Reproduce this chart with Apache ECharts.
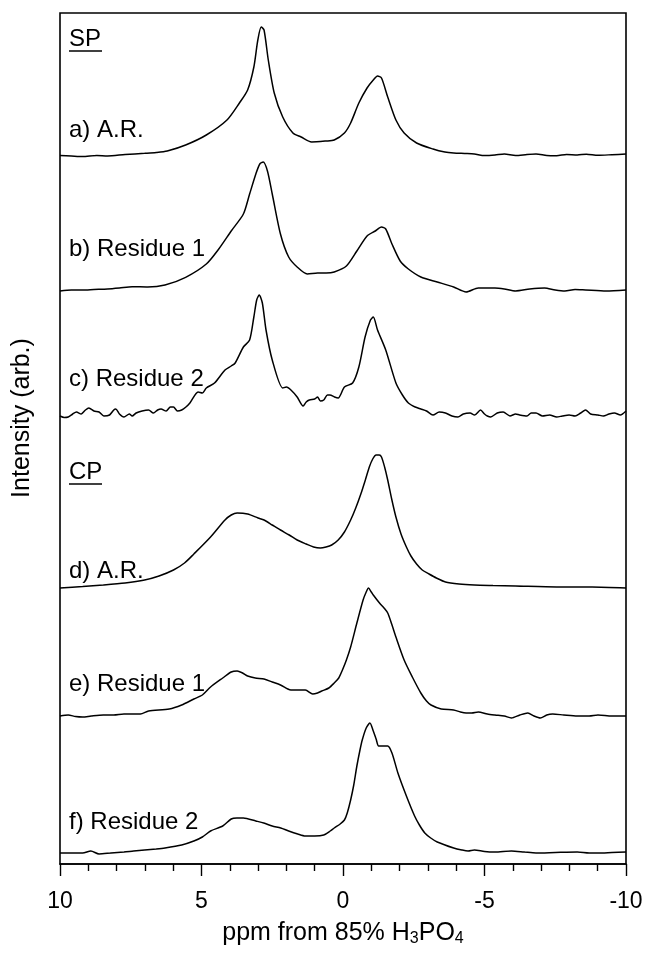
<!DOCTYPE html>
<html>
<head>
<meta charset="utf-8">
<script src="https://cdn.jsdelivr.net/npm/echarts@6/dist/echarts.min.js"></script>
<style>
html,body{margin:0;padding:0;background:#fff;}
#chart{width:647px;height:959px;}
</style>
</head>
<body>
<div id="chart"></div>
<script>
// x ticks (ppm, axis reversed)
const xTicks = [10, 5, 0, -5, -10];
// spectrum labels
const labels = ['a) A.R.', 'b) Residue 1', 'c) Residue 2', 'd) A.R.', 'e) Residue 1', 'f) Residue 2'];
const groupLabels = ['SP', 'CP'];
// vertical offsets of each trace (arbitrary intensity units)
const offsets = [709, 574, 449, 277, 148, 11];

// traces: [ppm, intensity above own baseline]
const spA = [[10.00,-0.5],[9.60,-1],[9.20,-1.5],[8.70,-0.5],[8.32,-1],[7.70,0.5],[7.01,1.7],[6.60,2.5],[6.21,4],[5.56,10],[4.83,20],[4.10,35],[3.66,52],[3.37,65],[3.15,88],[3.01,115],[2.89,128],[2.79,125],[2.64,95],[2.43,62],[2.13,38],[1.77,22],[1.48,18],[1.11,13],[0.60,14],[0.31,15],[-0.05,22],[-0.27,32],[-0.56,52],[-0.85,67],[-1.07,75],[-1.22,79],[-1.36,77],[-1.58,58],[-1.87,35],[-2.16,22],[-2.60,12],[-3.18,6],[-3.60,3],[-3.91,2],[-4.30,1.5],[-4.64,1],[-5.00,-0.5],[-5.37,0],[-5.70,1],[-6.10,-0.5],[-6.50,0.5],[-6.82,1],[-7.20,-0.5],[-7.55,-0.7],[-7.90,0.5],[-8.28,0],[-8.60,0.8],[-9.01,-0.3],[-9.50,0.3],[-10,1]];
const spB = [[10.00,-1],[9.60,0],[9.20,0],[8.80,0.5],[8.32,1],[7.90,2],[7.45,3.3],[6.90,3],[6.29,5],[5.56,12.7],[4.83,26],[4.39,41],[3.95,59],[3.52,76],[3.30,96],[3.08,116],[2.94,126],[2.82,128],[2.67,119],[2.50,96],[2.21,56],[1.92,33],[1.62,23],[1.26,16],[0.90,17],[0.60,17],[0.31,18],[-0.12,24],[-0.49,39],[-0.85,54],[-1.14,59],[-1.36,63],[-1.51,61],[-1.73,46],[-2.02,29],[-2.31,21],[-2.75,13],[-3.33,8],[-3.91,3],[-4.35,-2],[-4.78,2],[-5.37,2],[-5.70,1],[-6.10,-1],[-6.60,1],[-7.12,2],[-7.50,0],[-7.84,-1],[-8.20,0.5],[-8.57,0],[-9.30,-1],[-10,0]];
const spC = [[10.00,-1],[9.85,-2.5],[9.71,-2],[9.55,1],[9.42,3],[9.25,1],[9.10,5],[8.98,7],[8.80,4],[8.62,3],[8.45,-1],[8.25,0],[8.10,5],[8.03,6],[7.90,1],[7.74,-2],[7.55,1],[7.45,-1],[7.31,2],[7.10,4],[6.87,5],[6.70,2],[6.55,5],[6.43,6],[6.25,4],[6.10,8],[5.99,8],[5.85,4],[5.70,5],[5.55,8],[5.41,12],[5.12,23],[4.97,22],[4.83,27],[4.54,32],[4.17,45],[3.95,49],[3.81,52],[3.52,68],[3.30,75],[3.15,98],[3.05,115],[2.96,120],[2.85,112],[2.72,85],[2.50,55],[2.13,27],[2.00,28],[1.84,25],[1.62,18],[1.41,9],[1.30,13],[1.19,15],[1.00,16],[0.90,18],[0.80,14],[0.68,15],[0.55,20],[0.46,20],[0.30,18],[0.17,17],[-0.05,28],[-0.34,32],[-0.56,48],[-0.78,78],[-0.97,95],[-1.07,98],[-1.22,85],[-1.51,65],[-1.87,32],[-2.10,20],[-2.31,12],[-2.55,8],[-2.75,6],[-2.95,4],[-3.18,0],[-3.40,3],[-3.62,2],[-3.85,-1],[-4.06,-2],[-4.25,1],[-4.49,2],[-4.65,0],[-4.86,5],[-5.00,1],[-5.10,-1],[-5.22,-2],[-5.45,2],[-5.66,3],[-5.90,-1],[-6.10,1],[-6.24,0],[-6.50,-1],[-6.65,2],[-6.82,2],[-7.05,-1],[-7.30,0],[-7.55,-2],[-7.75,-1],[-7.99,0],[-8.20,-1],[-8.40,2],[-8.57,5],[-8.75,1],[-9.01,0],[-9.20,-1],[-9.40,1],[-9.59,2],[-9.80,0],[-10,4]];
const spD = [[10.00,-1],[9.20,0.5],[8.47,2],[7.70,4],[7.01,7],[6.50,11],[5.99,17],[5.60,24],[5.27,33],[4.68,50],[4.17,67],[3.95,72],[3.74,74],[3.37,73],[3.00,69],[2.79,67],[2.50,62],[2.21,57],[1.90,52],[1.62,47],[1.30,43],[1.04,40],[0.80,39],[0.60,40],[0.40,42],[0.17,47],[-0.05,55],[-0.27,67],[-0.45,79],[-0.63,93],[-0.80,108],[-0.93,120],[-1.05,128],[-1.17,132],[-1.28,132],[-1.36,130],[-1.47,120],[-1.58,107],[-1.72,88],[-1.87,70],[-2.05,53],[-2.24,40],[-2.40,31],[-2.60,23],[-2.80,17],[-3.04,13],[-3.30,9],[-3.62,5],[-4.10,3],[-4.64,2],[-5.30,1.5],[-6.10,1],[-7.55,0],[-8.80,0],[-10,-1]];
const spE = [[10.00,0],[9.71,1],[9.45,-0.5],[9.20,-1],[8.90,0],[8.47,1],[8.10,1],[7.74,2],[7.16,2],[6.87,5],[6.14,7],[5.70,11],[5.27,17],[4.97,21],[4.68,29],[4.25,38],[3.95,44],[3.74,45],[3.55,43],[3.37,40],[3.10,38],[2.79,37],[2.50,34],[2.21,31],[1.95,27],[1.84,26],[1.33,26],[1.07,22],[0.90,23],[0.75,25],[0.50,28],[0.31,33],[0.15,38],[0.02,46],[-0.12,56],[-0.27,69],[-0.49,93],[-0.71,116],[-0.82,124],[-0.90,128],[-1.00,124],[-1.07,121],[-1.29,113],[-1.45,108],[-1.58,103],[-1.72,92],[-1.87,79],[-2.16,56],[-2.45,39],[-2.75,23],[-2.95,15],[-3.11,11],[-3.47,7],[-3.91,6],[-4.15,4],[-4.35,3],[-4.55,3],[-4.78,4],[-5.10,2],[-5.37,1],[-5.70,0],[-5.95,-2],[-6.25,1],[-6.53,3],[-6.75,0],[-6.97,-2],[-7.20,1],[-7.41,2],[-7.80,1],[-8.28,0],[-8.70,0],[-9.01,1],[-9.50,0],[-10,0]];
const spF = [[10.00,0],[9.50,0],[9.20,0],[8.91,2],[8.62,-1],[8.20,0],[7.74,1],[7.40,2],[7.01,3],[6.60,4],[6.29,5],[5.70,8],[5.27,12],[4.97,16],[4.68,22],[4.25,27],[3.95,34],[3.75,35],[3.52,35],[3.08,32],[2.80,30],[2.50,27],[2.20,25],[1.92,22],[1.60,19],[1.33,17],[1.00,17],[0.68,18],[0.45,22],[0.31,25],[0.10,29],[-0.05,33],[-0.15,40],[-0.27,53],[-0.38,68],[-0.49,87],[-0.60,103],[-0.68,113],[-0.82,125],[-0.95,130],[-1.07,122],[-1.17,114],[-1.26,107],[-1.45,107],[-1.58,107],[-1.73,100],[-1.94,80],[-2.24,57],[-2.53,37],[-2.70,28],[-2.89,20],[-3.10,15],[-3.33,11],[-3.91,5],[-4.20,3],[-4.42,2],[-4.64,3],[-5.00,1.5],[-5.37,1],[-5.95,2],[-6.40,1],[-6.82,0],[-7.50,0.5],[-8.28,1],[-8.70,0],[-9.01,0],[-9.50,0.5],[-10,1]];

const traces = [spA, spB, spC, spD, spE, spF];

// annotation layout (pixels)
const labelX = 69;
const labelY = [130, 249, 379, 571, 684, 822];
const groupY = [39, 472];

const chart = echarts.init(document.getElementById('chart'), null, {renderer: 'canvas'});
const FONT = '"Liberation Sans", Arial, Helvetica, sans-serif';

const series = traces.map((tr, i) => ({
  type: 'line',
  data: tr.map(p => [p[0], p[1] + offsets[i]]),
  showSymbol: false,
  symbol: 'none',
  smooth: 0.25,
  lineStyle: {color: '#000', width: 1.5},
  silent: true,
  animation: false
}));

const graphics = [];
labels.forEach((t, i) => {
  graphics.push({type: 'text', x: labelX, y: labelY[i],
    style: {text: t, fill: '#000', font: '24px ' + FONT, textVerticalAlign: 'middle'}});
});
groupLabels.forEach((t, i) => {
  graphics.push({type: 'text', x: labelX, y: groupY[i],
    style: {text: t, fill: '#000', font: '24px ' + FONT, textVerticalAlign: 'middle'}});
  graphics.push({type: 'line', shape: {x1: labelX, y1: groupY[i] + 12, x2: labelX + 33, y2: groupY[i] + 12},
    style: {stroke: '#000', lineWidth: 1.6}});
});
graphics.push({type: 'text', x: 22, y: 418, rotation: Math.PI / 2,
  style: {text: 'Intensity (arb.)', fill: '#000', font: '25px ' + FONT, textAlign: 'center', textVerticalAlign: 'middle'}});

chart.setOption({
  backgroundColor: '#fff',
  animation: false,
  grid: {left: 60, right: 21, top: 13, bottom: 95, show: true, borderColor: '#000', borderWidth: 1.6, backgroundColor: 'transparent'},
  xAxis: {
    type: 'value', min: -10, max: 10, interval: 5, inverse: true,
    axisLine: {show: true, onZero: false, lineStyle: {color: '#000', width: 1.6}},
    axisTick: {show: true, length: 12, lineStyle: {color: '#000', width: 1.4}},
    minorTick: {show: true, splitNumber: 5, length: 7, lineStyle: {color: '#000', width: 1.4}},
    splitLine: {show: false},
    axisLabel: {color: '#000', fontSize: 23, fontFamily: FONT, margin: 26,
      formatter: v => xTicks.includes(v) ? String(v) : ''},
    name: 'ppm from 85% H{sub|3}PO{sub|4}',
    nameLocation: 'middle', nameGap: 56,
    nameTextStyle: {color: '#000', fontSize: 25, fontFamily: FONT,
      rich: {sub: {fontSize: 16, fontFamily: FONT, color: '#000', verticalAlign: 'bottom', padding: [11, 0, 0, 0]}}}
  },
  yAxis: {
    type: 'value', min: 0, max: 851,
    axisLine: {show: false},
    axisTick: {show: false}, axisLabel: {show: false}, splitLine: {show: false}
  },
  series: series,
  graphic: graphics
});
</script>
</body>
</html>
